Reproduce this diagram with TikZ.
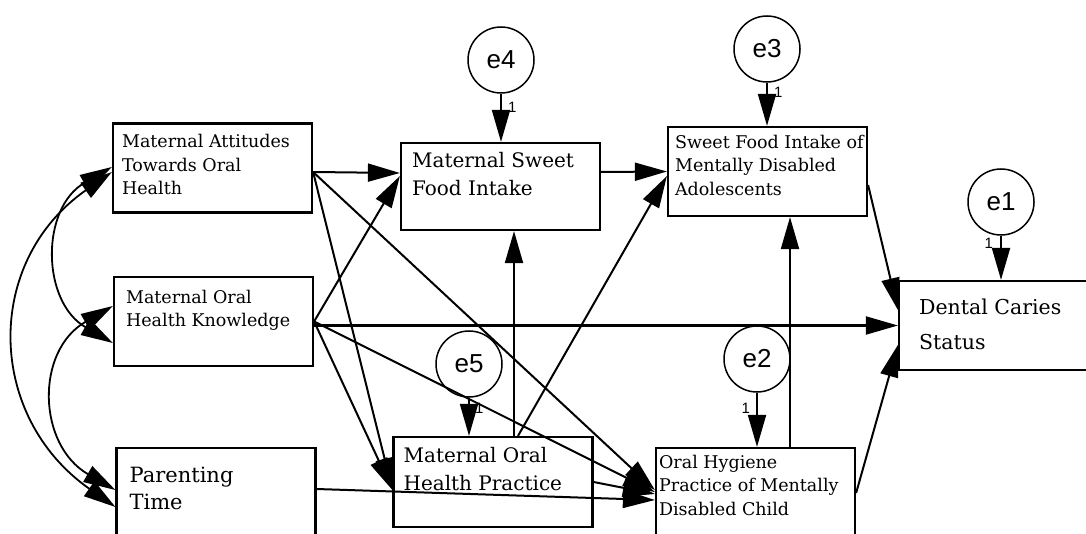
\documentclass[tikz,border=0pt]{standalone}
\usepackage{fontspec}
\setmainfont{DejaVu Serif}
\newfontfamily\errfont{Liberation Sans}
\usepackage{tikz}
\usetikzlibrary{positioning}
\usetikzlibrary{arrows.meta}

\begin{document}
\begin{tikzpicture}[x=1pt, y=1pt, >={Triangle[length=32pt,width=18pt]},
  box/.style={draw, line width=2.2pt, minimum width=199pt, minimum height=89pt, inner sep=0pt},
  err/.style={circle, draw, line width=1.5pt, minimum size=66pt, inner sep=0pt, font=\errfont\fontsize{26}{26}\selectfont},
  small/.style={inner sep=0pt, align=left, font=\fontsize{17.5}{23.5}\selectfont},
  big/.style={inner sep=0pt, align=left, font=\fontsize{20}{28}\selectfont},
  num/.style={inner sep=0pt, font=\errfont\fontsize{15}{15}\selectfont},
  arr/.style={line width=2pt, ->},
  cov/.style={line width=1.8pt, <->}]
\useasboundingbox (0,0) rectangle (1086,-534);

% observed variables
\node[box] (ma) at (212.5,-168) {};
\node[box] (mk) at (213.5,-321.5) {};
\node[box, minimum height=90pt] (pt) at (216,-493) {};
\node[box, minimum height=87pt] (ms) at (500.5,-186.5) {};
\node[box] (sf) at (767.5,-171.5) {};
\node[box, minimum height=90pt] (mp) at (493,-482) {};
\node[box, minimum height=90pt] (oh) at (755.5,-493) {};
\node[box] (dc) at (998.5,-325.5) {};

\node[small, below right=12pt and 10pt of ma.north west] (tma) {Maternal Attitudes\\Towards Oral\\Health};
\node[small, below right=14pt and 13pt of mk.north west] (tmk) {Maternal Oral\\Health Knowledge};
\node[big, font=\fontsize{21}{27}\selectfont, below right=19.5pt and 14pt of pt.north west] (tpt) {Parenting\\Time};
\node[big, below right=10pt and 12pt of ms.north west] (tms) {Maternal Sweet\\Food Intake};
\node[small, below right=9pt and 8pt of sf.north west] (tsf) {Sweet Food Intake of\\Mentally Disabled\\Adolescents};
\node[big, below right=11pt and 11pt of mp.north west] (tmp) {Maternal Oral\\Health Practice};
\node[small, below right=8pt and 4pt of oh.north west] (toh) {Oral Hygiene\\Practice of Mentally\\Disabled Child};
\node[big, font=\fontsize{20.5}{35}\selectfont, below right=19pt and 21pt of dc.north west] (tdc) {Dental Caries\\Status};

% error terms
\node[err] (e4) at (501,-60) {e4};
\node[err] (e3) at (767,-49) {e3};
\node[err] (e1) at (1001,-202) {e1};
\node[err] (e5) at (469,-364) {e5};
\node[err] (e2) at (757,-359) {e2};

\draw[arr] (e4) -- (e4 |- ms.north) node[num, pos=0.28, right=6pt] (w4) {1};
\draw[arr] (e3) -- (e3 |- sf.north) node[num, pos=0.22, right=6pt] (w3) {1};
\draw[arr] (e1) -- (e1 |- dc.north) node[num, pos=0.18, left=7pt] (w1) {1};
\draw[arr] (e5) -- (e5 |- mp.north) node[num, pos=0.28, right=5pt] (w5) {1};
\draw[arr] (e2) -- (e2 |- oh.north) node[num, pos=0.28, left=6pt] (w2) {1};

% covariances
\draw[cov] ([yshift=1pt]ma.west) to[out=210,in=150,looseness=1.2] ([yshift=-21.5pt]mk.west);
\draw[cov] ([yshift=15.5pt]mk.west) to[out=210,in=150,looseness=1.25] ([yshift=3pt]pt.west);
\draw[cov] ([yshift=-4pt]ma.west) to[out=215,in=145,looseness=1.2] ([yshift=-14pt]pt.west);

% paths
\draw[arr] ([yshift=-4pt]ma.east) -- ([yshift=13.5pt]ms.west);
\draw[arr] (mk.east) -- ([yshift=10.5pt]ms.west);
\draw[arr] ([yshift=-4pt]ma.east) -- ([yshift=-8pt]mp.west);
\draw[arr] (mk.east) -- ([yshift=-8pt]mp.west);
\draw[arr] ([yshift=-4pt]ma.east) -- ([yshift=3pt]oh.west);
\draw[arr] (mk.east) -- ([yshift=1pt]oh.west);
\draw[arr] (dc.west -| mk.east) -- (dc.west);
\draw[arr] ([yshift=4pt]pt.east) -- ([yshift=-7pt]oh.west);
\draw[arr] (mp.east) -- ([yshift=-1pt]oh.west);
\draw[arr] ([xshift=21pt]mp.north) -- ([xshift=13.5pt]ms.south);
\draw[arr] ([xshift=25pt]mp.north) -- ([yshift=-4.5pt]sf.west);
\draw[arr] ([yshift=14.5pt]ms.east) -- (sf.west);
\coordinate (ohtop) at ([xshift=34.5pt]oh.north);
\draw[arr] (ohtop) -- (ohtop |- sf.south);
\draw[arr] ([yshift=-13.5pt]sf.east) -- ([yshift=15.5pt]dc.west);
\draw[arr] (oh.east) -- ([yshift=-19.5pt]dc.west);

\end{tikzpicture}
\end{document}
